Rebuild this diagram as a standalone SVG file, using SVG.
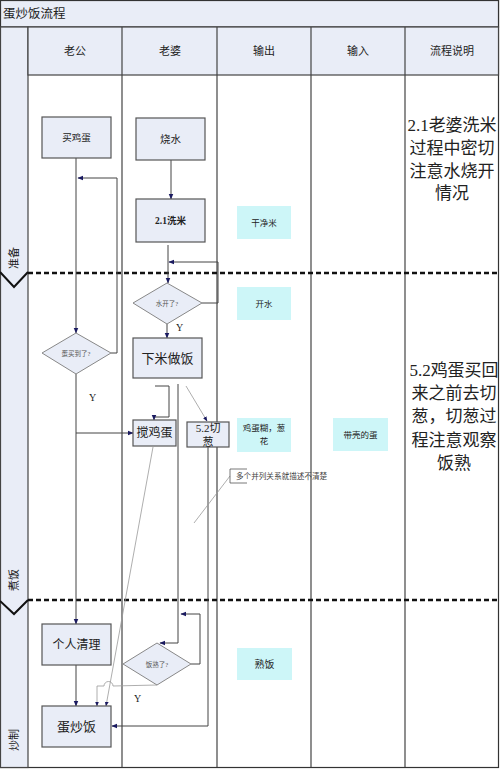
<svg xmlns="http://www.w3.org/2000/svg" width="500" height="769" viewBox="0 0 500 769">
<style>
text{font-family:"Liberation Serif","Noto Sans CJK SC",serif;fill:#222}
.hdr{font-size:11px;text-anchor:middle}
.box{fill:#e9edf7;stroke:#555;stroke-width:1.2}
.dia{fill:#e9edf7;stroke:#888;stroke-width:1}
.cy{fill:#cdf6f8}
.t{text-anchor:middle;dominant-baseline:central}
.c{fill:none;stroke:#444;stroke-width:1}
.g{fill:none;stroke:#999;stroke-width:0.8}
.grid{stroke:#444;stroke-width:1.2}
.dash{stroke:#111;stroke-width:2.5;stroke-dasharray:5 3}
.note{font-size:17px;text-anchor:middle}
</style>
<defs>
<marker id="a" viewBox="0 0 10 10" refX="9" refY="5" markerWidth="6" markerHeight="6" orient="auto"><path d="M0,1 L10,5 L0,9 z" fill="#1a1a60"/></marker>
</defs>
<g id="frame">
<rect x="0.5" y="0.5" width="498" height="767" fill="#fff" stroke="#333" stroke-width="1.2"/>
<rect x="0.5" y="0.5" width="498" height="26.5" fill="#e9edf7" stroke="#333" stroke-width="1.2"/>
<text x="3" y="18" style="font-size:12.5px">蛋炒饭流程</text>
<rect x="0.5" y="27" width="27.5" height="740.5" fill="#e9edf7" stroke="#444" stroke-width="1.2"/>
<rect x="28" y="27" width="470.5" height="48" fill="#e9edf7" stroke="#444" stroke-width="1.2"/>
<line class="grid" x1="122" y1="27" x2="122" y2="767"/>
<line class="grid" x1="217" y1="27" x2="217" y2="767"/>
<line class="grid" x1="311" y1="27" x2="311" y2="767"/>
<line class="grid" x1="405" y1="27" x2="405" y2="767"/>
<text class="hdr" x="75" y="55">老公</text>
<text class="hdr" x="170" y="55">老婆</text>
<text class="hdr" x="264" y="55">输出</text>
<text class="hdr" x="358" y="55">输入</text>
<text class="hdr" x="452" y="55">流程说明</text>
<line class="dash" x1="28" y1="273" x2="500" y2="273"/>
<line class="dash" x1="28" y1="600" x2="500" y2="600"/>
<path d="M0,272 L14,287 L28,272" fill="none" stroke="#111" stroke-width="2"/>
<path d="M0,601 L14,614 L28,600" fill="none" stroke="#111" stroke-width="2"/>
<text x="14" y="258" class="t" style="font-size:11px" transform="rotate(-90 14 258)">准备</text>
<text x="14" y="580" class="t" style="font-size:11px" transform="rotate(-90 14 580)">煮饭</text>
<text x="14" y="740" class="t" style="font-size:11px" transform="rotate(-90 14 740)">炒制</text>
</g>
<g id="connectors">
<path class="c" d="M76,158 V333" marker-end="url(#a)"/>
<path class="c" d="M111,353 H117 V178 H78" marker-end="url(#a)"/>
<path class="c" d="M76,374 V624" marker-end="url(#a)"/>
<path class="c" d="M76,433 H133" marker-end="url(#a)"/>
<path class="c" d="M171,160 V199" marker-end="url(#a)"/>
<path class="c" d="M168,245 V283" marker-end="url(#a)"/>
<path class="c" d="M202,303 H218 V262 H169" marker-end="url(#a)"/>
<path class="c" d="M167,324 V338" marker-end="url(#a)"/>
<path class="c" d="M155,386 H169 V417 H154 V420" marker-end="url(#a)"/>
<path class="c" d="M178,384 V643 H160" marker-end="url(#a)"/>
<path class="c" d="M191,664 H200 V614 H181" marker-end="url(#a)"/>
<path class="g" d="M186,386 L207,421" marker-end="url(#a)"/>
<path class="c" d="M208,447 V726 H112" marker-end="url(#a)"/>
<path class="g" d="M153,447 L106,706" marker-end="url(#a)"/>
<path class="g" d="M157,685 L113,686 A4.5,4.5 0 0 0 104,686 H97 V706" marker-end="url(#a)"/>
<path class="c" d="M76,665 V706" marker-end="url(#a)"/>
<path class="g" d="M230,476 L194,523"/>
</g>
<g id="n-maijidan"><rect class="box" x="42" y="117" width="69" height="41"/><text class="t" x="76.5" y="137.5" style="font-size:9.5px">买鸡蛋</text></g>
<g id="n-shaoshui"><rect class="box" x="136" y="118" width="69" height="42"/><text class="t" x="170.5" y="139" style="font-size:10.5px">烧水</text></g>
<g id="n-ximi"><rect class="box" x="136" y="199" width="69" height="43"/><text class="t" x="170.5" y="220.5" style="font-size:9.5px;font-weight:bold">2.1洗米</text></g>
<g id="o-ganjingmi"><rect class="cy" x="237" y="206" width="54" height="33"/><text class="t" x="264" y="222.5" style="font-size:8.5px">干净米</text></g>
<g id="o-kaishui"><rect class="cy" x="237" y="287" width="54" height="33"/><text class="t" x="264" y="303.5" style="font-size:8.5px">开水</text></g>
<g id="d-shuikai"><path class="dia" d="M167,283 L202,303 L167,324 L133,303 z"/><text class="t" x="167" y="303.5" style="font-size:6.5px;fill:#555">水开了?</text><text x="176" y="331" style="font-size:10px">Y</text></g>
<g id="n-xiami"><rect class="box" x="133" y="338" width="69" height="40"/><text class="t" x="167.5" y="358" style="font-size:13px">下米做饭</text></g>
<g id="d-danmai"><path class="dia" d="M76,333 L111,353 L76,374 L42,353 z"/><text class="t" x="76" y="353.5" style="font-size:6.5px;fill:#555">蛋买到了?</text><text x="89" y="401" style="font-size:10px">Y</text></g>
<g id="n-jiaojidan"><rect class="box" x="133" y="420" width="43" height="26"/><text class="t" x="154.5" y="433" style="font-size:12px">搅鸡蛋</text></g>
<g id="n-qiecong"><rect class="box" x="187" y="422" width="42" height="25"/><text x="208" y="432" style="font-size:11px;text-anchor:middle">5.2切</text><text x="208" y="446" style="font-size:11px;text-anchor:middle">葱</text></g>
<g id="o-danhu"><rect class="cy" x="237" y="418" width="54" height="34"/><text x="264" y="431" style="font-size:8.5px;text-anchor:middle">鸡蛋糊，葱</text><text x="264" y="444" style="font-size:8.5px;text-anchor:middle">花</text></g>
<g id="i-daike"><rect class="cy" x="333" y="418" width="55" height="33"/><text class="t" x="360.5" y="434.5" style="font-size:8.5px">带壳的蛋</text></g>
<g id="note-callout"><path d="M247,469 H230 V483 H247" fill="none" stroke="#555" stroke-width="0.8"/><text x="236" y="479" style="font-size:7.6px;fill:#444">多个并列关系就描述不清楚</text></g>
<g id="n-qingli"><rect class="box" x="42" y="624" width="69" height="41"/><text class="t" x="76.5" y="644.5" style="font-size:12px">个人清理</text></g>
<g id="d-fanshu"><path class="dia" d="M157,643 L191,664 L157,685 L123,664 z"/><text class="t" x="157" y="664" style="font-size:6.5px;fill:#555">饭熟了?</text><text x="134" y="702" style="font-size:10px">Y</text></g>
<g id="o-shufan"><rect class="cy" x="237" y="648" width="55" height="32"/><text class="t" x="264.5" y="664" style="font-size:10px">熟饭</text></g>
<g id="n-danchaofan"><rect class="box" x="42" y="706" width="69" height="41"/><text class="t" x="76.5" y="726.5" style="font-size:13px">蛋炒饭</text></g>
<g id="note1"><text class="note" x="452" y="131">2.1老婆洗米</text><text class="note" x="452" y="154">过程中密切</text><text class="note" x="452" y="177">注意水烧开</text><text class="note" x="452" y="199">情况</text></g>
<g id="note2"><text class="note" x="454" y="376">5.2鸡蛋买回</text><text class="note" x="454" y="399">来之前去切</text><text class="note" x="454" y="422">葱，切葱过</text><text class="note" x="454" y="446">程注意观察</text><text class="note" x="454" y="469">饭熟</text></g>
</svg>
